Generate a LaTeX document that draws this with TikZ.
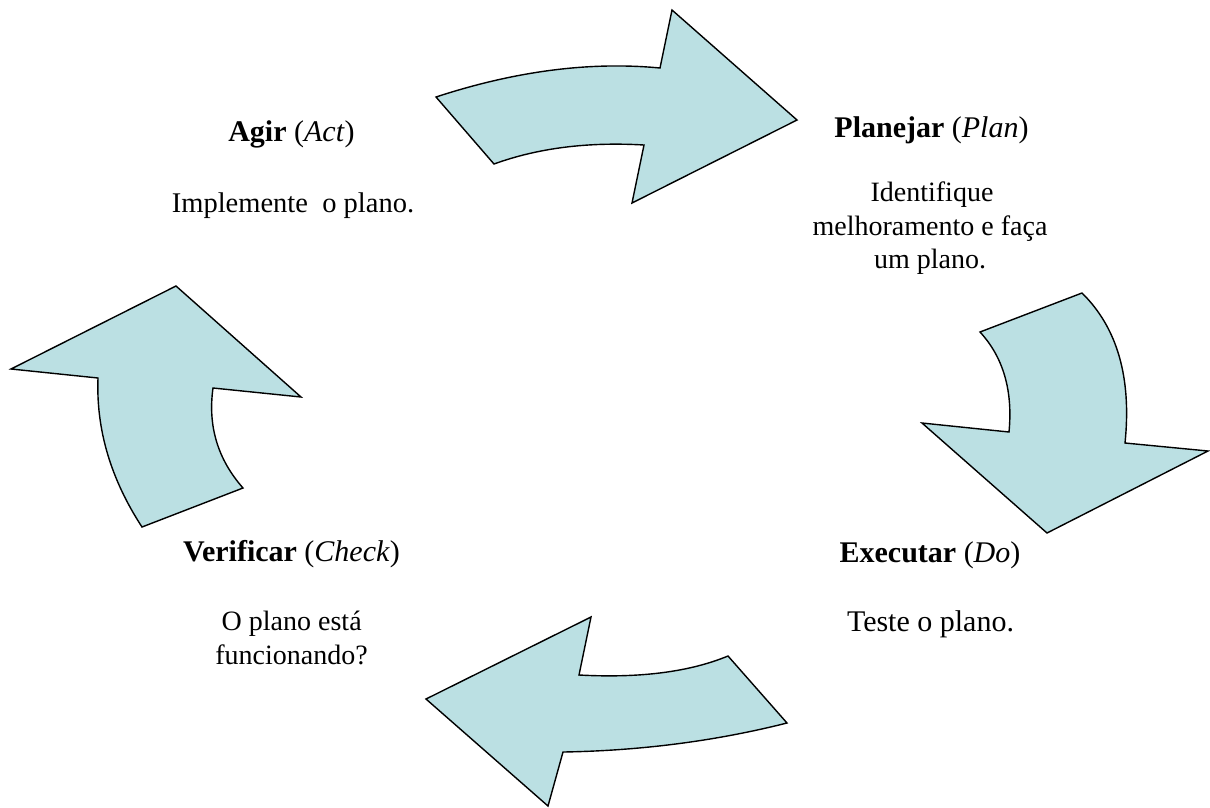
\documentclass[tikz,border=0pt]{standalone}
\usepackage{fontspec}
\setmainfont{Liberation Serif}
\definecolor{arrowfill}{HTML}{BBE0E3}
\tikzset{
  cyc/.style={draw=black, fill=arrowfill, line width=1.4pt, line join=miter},
  head/.style={anchor=base, inner sep=0pt, font=\fontsize{30}{36}\selectfont},
  desc/.style={anchor=base, inner sep=0pt, font=\fontsize{#1}{#1}\selectfont},
}
\begin{document}
\begin{tikzpicture}[x=1pt,y=-1pt]
\useasboundingbox (0,0) rectangle (1210,807);
% top arrow (Agir -> Planejar)
\draw[cyc] (436,97) .. controls (515.3,71) and (590,61.3) .. (660,68)
  -- (672,10) -- (797,120) -- (632,203) -- (644,145)
  .. controls (588,141.7) and (538,148) .. (494,164) -- cycle;
% right arrow (Planejar -> Executar)
\draw[cyc] (1082,293) .. controls (1117.3,327.7) and (1131.7,377.7) .. (1125,443)
  -- (1208,451) -- (1047,533) -- (922,423) -- (1009,432)
  .. controls (1013,390.7) and (1003.3,357.3) .. (980,332) -- cycle;
% bottom arrow (Executar -> Verificar)
\draw[cyc] (728,656) -- (787,723)
  .. controls (715.7,741) and (641,750.7) .. (563,752)
  -- (548,806) -- (426,699) -- (591,617) -- (579,675)
  .. controls (639.7,678.3) and (689.3,672) .. (728,656) -- cycle;
% left arrow (Verificar -> Agir)
\draw[cyc] (176,286) -- (301,397) -- (213,388)
  .. controls (207.7,426) and (217.7,459.3) .. (243,488)
  -- (142,527)
  .. controls (110.7,479) and (96,429.3) .. (98,378)
  -- (11,369) -- cycle;
% texts
\node[head] (agir) at (291.5,141.5) {\textbf{Agir} (\textit{Act})};
\node[desc=28.5] (agird) at (293,212) {Implemente\ \ o plano.};
\node[head] (plan) at (931.5,137) {\textbf{Planejar} (\textit{Plan})};
\node[desc=28] (pland1) at (932,201.5) {Identifique};
\node[desc=28] (pland2) at (930,235) {melhoramento e faça};
\node[desc=28] (pland3) at (930,268) {um plano.};
\node[head] (ver) at (291.5,561.5) {\textbf{Verificar} (\textit{Check})};
\node[desc=28] (verd1) at (291.7,630) {O plano está};
\node[desc=28] (verd2) at (291.5,664) {funcionando?};
\node[head] (exe) at (930,562) {\textbf{Executar} (\textit{Do})};
\node[desc=30] (exed) at (930.5,631.5) {Teste o plano.};
\end{tikzpicture}
\end{document}
